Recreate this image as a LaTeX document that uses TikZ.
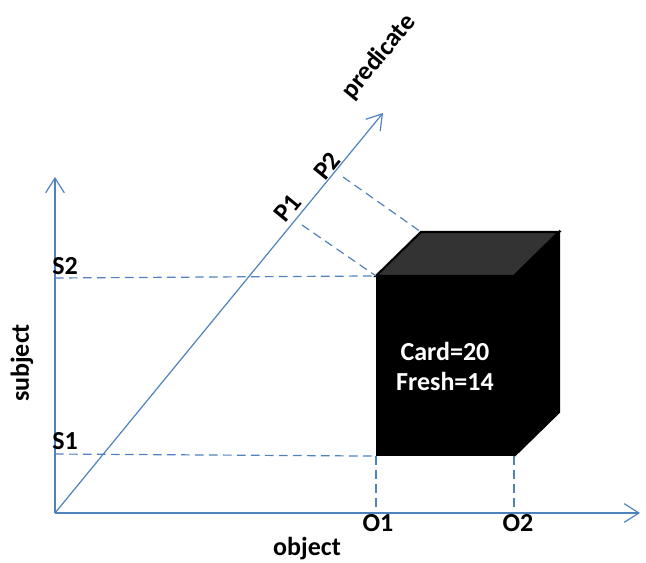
\documentclass[tikz,border=0pt]{standalone}
\usepackage{fontspec}
\setmainfont{Carlito}
\usetikzlibrary{arrows.meta, positioning}

\definecolor{axisblue}{RGB}{79,129,189}
\definecolor{topgray}{RGB}{51,51,51}

\begin{document}
\begin{tikzpicture}[x=0.75pt, y=-0.75pt,
  axis/.style={draw=axisblue, line width=0.9pt, -{Straight Barb[length=11pt, width=14pt]}},
  proj/.style={draw=axisblue, line width=0.9pt, dash pattern=on 6.5pt off 4pt},
  lbl/.style={font=\fontsize{19.5}{22.5}\selectfont\bfseries, inner sep=0pt},
  face/.style={draw=black, line width=1.6pt, line join=miter}]

\useasboundingbox (0,0) rectangle (646,562);

% axes
\coordinate (o)  at (55,513);
\coordinate (ox) at (640,513);
\coordinate (oy) at (55,177);
\coordinate (oz) at (383,113);

\path [axis] (o) -- (ox);
\path [axis] (o) -- (oy);
\path [axis] (o) -- (oz);

\node [lbl            ] (lobj)  at (307,549) {object};
\node [lbl, rotate=90 ] (lsubj) at (22,363)  {subject};
\node [lbl, rotate=50.6] (lpred) at (379,57) {predicate};

% the block
\node [face, fill=black, text=white, lbl, align=center,
       minimum width=102pt, minimum height=133.5pt] (front) at (445,366) {Card=20\\Fresh=14};

\coordinate (bl) at ([shift={(45,-44)}]front.north west);
\coordinate (br) at ([shift={(45,-44)}]front.north east);
\coordinate (bb) at ([shift={(45,-44)}]front.south east);

\path [face, fill=topgray] (front.north west) -- (bl) -- (br) -- (front.north east) -- cycle;
\path [face, fill=black  ] (front.north east) -- (br) -- (bb) -- (front.south east) -- cycle;

% projections onto the axes
\coordinate (s2) at (55,278);
\coordinate (s1) at (55,454);
\coordinate (p1) at (302,225);
\coordinate (p2) at (343,177);
\coordinate (o1) at (front.south west |- o);
\coordinate (o2) at (front.south east |- o);

\path [proj] (s2) -- (front.north west);
\path [proj] (s1) -- (front.south west);
\path [proj] (front.south west) -- (o1);
\path [proj] (front.south east) -- (o2);
\path [proj] (p1) -- (front.north west);
\path [proj] (p2) -- (bl);

\node [lbl] (ls2) at (65,266) {S2};
\node [lbl] (ls1) at (65,441) {S1};
\node [lbl] (lo1) at (378,523) {O1};
\node [lbl] (lo2) at (518,523) {O2};
\node [lbl, rotate=50.6] (lp1) at (288,208) {P1};
\node [lbl, rotate=50.6] (lp2) at (327,166) {P2};

\end{tikzpicture}
\end{document}
